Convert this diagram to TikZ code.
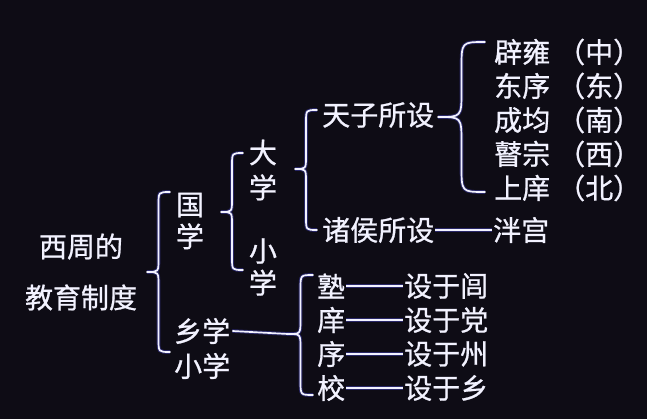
\documentclass[tikz,border=0pt]{standalone}
\usepackage{fontspec}
\newfontfamily\cjk{Noto Sans CJK SC}[FakeBold=0.8]
\definecolor{bg}{HTML}{0E0C15}
\definecolor{ink}{HTML}{F2F2FF}
\definecolor{glow}{HTML}{5A5AFF}
\newcommand\mybrace[6]{% name, tipx, tipy, rightx, topy, boty
  \pgfmathsetmacro\bm{(#2+#4)/2}
  \pgfmathsetmacro\bd{(#4-#2)*0.55}
  \coordinate (#1) at (#2,#3);
  \draw[br] (#4,#5) .. controls (\bm,#5) .. (\bm,#5+\bd) -- (\bm,#3-\bd)
    .. controls (\bm,#3) .. (#1) .. controls (\bm,#3) .. (\bm,#3+\bd)
    -- (\bm,#6-\bd) .. controls (\bm,#6) .. (#4,#6);
}
\begin{document}
\begin{tikzpicture}[x=1pt,y=-1pt,
  txt/.style={inner sep=0pt,text=ink,font=\cjk\fontsize{28}{32}\selectfont},
  br/.style={draw=ink,line width=1.7pt,line cap=round,line join=round,
    preaction={draw=glow,line width=3.6pt,opacity=0.35}},
  ln/.style={draw=ink,line width=1.7pt,preaction={draw=glow,line width=3.6pt,opacity=0.35}}]
\fill[bg] (0,0) rectangle (647,419);
\useasboundingbox (0,0) rectangle (647,419);
% left title
\node[txt,align=center,font=\cjk\fontsize{28}{51}\selectfont] (title) at (81,272) {西周的\\教育制度};
\mybrace{b1}{147}{272}{170}{192}{352}
\node[txt,align=center] (guo) at (190,221) {国\\学};
\mybrace{b2}{221}{212}{243}{153}{270}
\node[txt,align=center,font=\cjk\fontsize{28}{35}\selectfont] (da) at (263,170) {大\\学};
\node[txt,align=center] (xiao1) at (263,267) {小\\学};
\node[txt,anchor=west] (xiang) at (174,331) {乡学};
\node[txt,anchor=west] (xiao2) at (174,366) {小学};
% upper branch
\mybrace{b4}{295}{169}{317}{110}{230}
\node[txt,anchor=west] (tianzi) at (322,115) {天子所设};
\node[txt,anchor=west] (zhuhou) at (322,230) {诸侯所设};
\node[txt,anchor=west] (pan) at (493,230) {泮宫};
\draw[ln] (zhuhou.east) ++(1,0) -- ([xshift=-1pt]pan.west);
\mybrace{b5}{438}{117}{485}{42}{192}
\node[txt,anchor=west] (p1) at (494,52) {辟雍\hspace{0.25em}（中）};
\node[txt,anchor=west] (p2) at (494,86) {东序\hspace{0.25em}（东）};
\node[txt,anchor=west] (p3) at (494,120) {成均\hspace{0.25em}（南）};
\node[txt,anchor=west] (p4) at (494,154) {瞽宗\hspace{0.25em}（西）};
\node[txt,anchor=west] (p5) at (494,188) {上庠\hspace{0.25em}（北）};
% lower branch
\mybrace{b3}{288}{334}{313}{275}{395}
\draw[ln] ([xshift=2pt]xiang.east) -- (b3);
\node[txt,anchor=west] (s1) at (317,286) {塾};
\node[txt,anchor=west] (s2) at (317,320) {庠};
\node[txt,anchor=west] (s3) at (317,354) {序};
\node[txt,anchor=west] (s4) at (317,388) {校};
\node[txt,anchor=west] (d1) at (404,286) {设于闾};
\node[txt,anchor=west] (d2) at (404,320) {设于党};
\node[txt,anchor=west] (d3) at (404,354) {设于州};
\node[txt,anchor=west] (d4) at (404,388) {设于乡};
\foreach \i in {1,...,4}{\draw[ln] ([xshift=1pt]s\i.east) -- ([xshift=-1pt]d\i.west);}
\end{tikzpicture}
\end{document}
